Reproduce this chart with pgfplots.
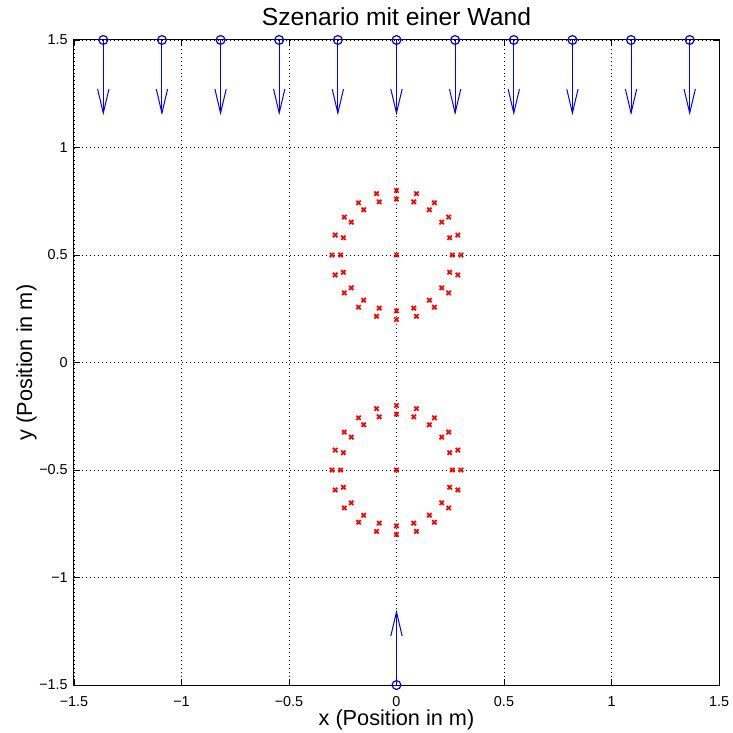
\documentclass[border=0pt]{standalone}
\usepackage{pgfplots}
\pgfplotsset{compat=1.18}
\usepackage{fontspec}
\setmainfont{Liberation Sans}
\usetikzlibrary{arrows.meta}

% Sensorpositionen an der Wand (oben) und gegenueber (unten)
\pgfplotstableread{
x y u v
-1.3636 1.5 0 -0.35
-1.0909 1.5 0 -0.35
-0.8182 1.5 0 -0.35
-0.5455 1.5 0 -0.35
-0.2727 1.5 0 -0.35
0 1.5 0 -0.35
0.2727 1.5 0 -0.35
0.5455 1.5 0 -0.35
0.8182 1.5 0 -0.35
1.0909 1.5 0 -0.35
1.3636 1.5 0 -0.35
0 -1.5 0 0.35
}\sensoren

\begin{document}
\begin{tikzpicture}
\begin{axis}[
    scale only axis,
    width=484pt, height=484pt,
    xmin=-1.5, xmax=1.5, ymin=-1.5, ymax=1.5,
    xtick={-1.5,-1,-0.5,0,0.5,1,1.5},
    ytick={-1.5,-1,-0.5,0,0.5,1,1.5},
    xticklabels={−1.5,−1,−0.5,0,0.5,1,1.5},
    yticklabels={−1.5,−1,−0.5,0,0.5,1,1.5},
    tick align=inside,
    major tick length=4.5pt,
    tick style={black, line width=0.6pt},
    axis line style={black, line width=0.75pt},
    grid=major,
    major grid style={black, line width=0.5pt, dash pattern=on 0.6pt off 2.4pt},
    ticklabel style={font=\fontsize{10.8}{13}\selectfont},
    yticklabel style={inner sep=0pt, xshift=-4.5pt},
    xticklabel style={inner sep=0pt, yshift=-8.25pt},
    title={Szenario mit einer Wand},
    title style={font=\fontsize{18.5}{22}\selectfont, at={(axis description cs:0.5,1.0108)}, anchor=base, inner sep=0pt},
    xlabel={x (Position in m)},
    xlabel style={font=\fontsize{16.3}{19}\selectfont, at={(axis description cs:0.5,-0.062)}, anchor=base, inner sep=0pt},
    ylabel={y (Position in m)},
    ylabel style={font=\fontsize{16.3}{19}\selectfont, at={(axis description cs:-0.065,0.5)}, anchor=base, inner sep=0pt},
    clip=false,
]
% Pfeile
\addplot[blue, line width=0.75pt, quiver={u=\thisrow{u}, v=\thisrow{v}},
    -{Straight Barb[length=18pt, width=8.5pt]}] table[x=x, y=y] {\sensoren};
% Kreise
\addplot[blue, only marks, mark=o, mark size=3.3pt, mark options={line width=0.9pt}]
    table[x=x, y=y] {\sensoren};
% Objekte (zwei Ringe)
\addplot[red, only marks, mark=x, mark size=2.3pt, mark options={line width=1.3pt}] coordinates {
(0.3,0.5) (0.2853,0.5927) (0.2427,0.6763) (0.1763,0.7427) (0.0927,0.7853) (0,0.8)
(-0.0927,0.7853) (-0.1763,0.7427) (-0.2427,0.6763) (-0.2853,0.5927) (-0.3,0.5)
(-0.2853,0.4073) (-0.2427,0.3237) (-0.1763,0.2573) (-0.0927,0.2147) (0,0.2)
(0.0927,0.2147) (0.1763,0.2573) (0.2427,0.3237) (0.2853,0.4073)
(0.26,0.5) (0.2473,0.5803) (0.2103,0.6528) (0.1528,0.7103) (0.0803,0.7473) (0,0.76)
(-0.0803,0.7473) (-0.1528,0.7103) (-0.2103,0.6528) (-0.2473,0.5803) (-0.26,0.5)
(-0.2473,0.4197) (-0.2103,0.3472) (-0.1528,0.2897) (-0.0803,0.2527) (0,0.24)
(0.0803,0.2527) (0.1528,0.2897) (0.2103,0.3472) (0.2473,0.4197)
(0,0.5)
(0.3,-0.5) (0.2853,-0.4073) (0.2427,-0.3237) (0.1763,-0.2573) (0.0927,-0.2147) (0,-0.2)
(-0.0927,-0.2147) (-0.1763,-0.2573) (-0.2427,-0.3237) (-0.2853,-0.4073) (-0.3,-0.5)
(-0.2853,-0.5927) (-0.2427,-0.6763) (-0.1763,-0.7427) (-0.0927,-0.7853) (0,-0.8)
(0.0927,-0.7853) (0.1763,-0.7427) (0.2427,-0.6763) (0.2853,-0.5927)
(0.26,-0.5) (0.2473,-0.4197) (0.2103,-0.3472) (0.1528,-0.2897) (0.0803,-0.2527) (0,-0.24)
(-0.0803,-0.2527) (-0.1528,-0.2897) (-0.2103,-0.3472) (-0.2473,-0.4197) (-0.26,-0.5)
(-0.2473,-0.5803) (-0.2103,-0.6528) (-0.1528,-0.7103) (-0.0803,-0.7473) (0,-0.76)
(0.0803,-0.7473) (0.1528,-0.7103) (0.2103,-0.6528) (0.2473,-0.5803)
(0,-0.5)
};
\end{axis}
\path ([shift={(-55.5pt,-35.25pt)}]current axis.south west) rectangle ([shift={(10.5pt,30pt)}]current axis.north east);
\end{tikzpicture}
\end{document}
